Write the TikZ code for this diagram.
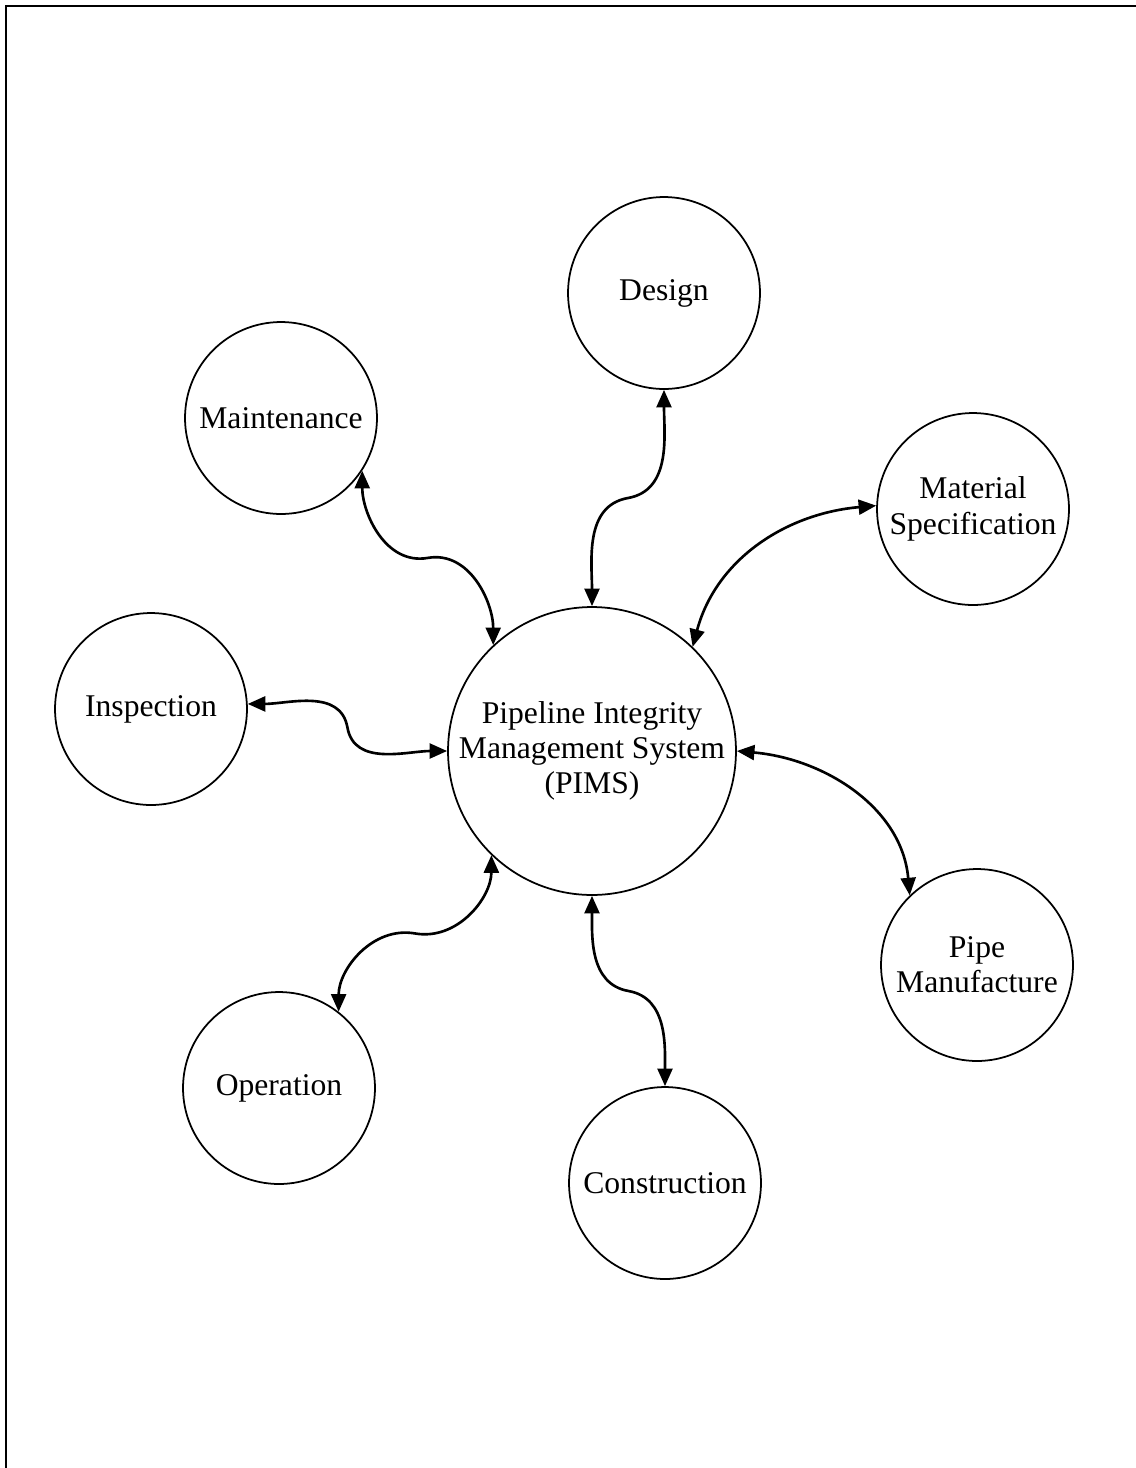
\documentclass[tikz,border=0pt]{standalone}
\usepackage{fontspec}
\setmainfont{Liberation Serif}
\usetikzlibrary{arrows.meta,calc}

\tikzset{
  blob/.style={circle, draw, line width=1pt, minimum size=3.84cm, inner sep=0pt, align=center,
               font=\fontsize{18}{20.1}\selectfont},
  link/.style={line width=1.5pt, {Triangle[length=10pt,width=8.5pt]}-{Triangle[length=10pt,width=8.5pt]}}
}

\begin{document}
\begin{tikzpicture}[x=0.02cm, y=-0.02cm]
            \useasboundingbox (0,0) rectangle (1136,1468);
            \draw[line width=1.4pt] (1136,6) -- (6,6) -- (6,1468);

            % Nodi
            \node[blob, minimum size=5.76cm] (pims) at (592,751) {Pipeline Integrity\\Management System\\(PIMS)};
            \foreach \name/\x/\y/\txt in {design/664/293/Design, maint/281/418/Maintenance,
                matspec/973/509/{Material\\Specification}, insp/151/709/Inspection,
                pipe/977/965/{Pipe\\Manufacture}, oper/279/1088/Operation, constr/665/1183/Construction} {
                    \node[blob] (\name) at (\x,\y) {\txt};
                }

            % Frecce
            \foreach \a/\b/\oa/\im/\om/\ib in {pims.north/design.south/90/190/10/-90,
                maint.-33/pims.133/-90/190/10/90, insp.3/pims.west/0/100/-80/180,
                pims.226/oper.52/-90/-10/170/90, pims.south/constr.north/-90/170/-10/90} {
                    \draw[link] (\a) to[out=\oa, in=\im] ($(\a)!0.5!(\b)$) to[out=\om, in=\ib] (\b);
                }
            \draw[link] (pims.46) to[out=75, in=185] (matspec.178);
            \draw[link] (pims.east) to[out=-5, in=95] (pipe.134);
        \end{tikzpicture}
\end{document}
